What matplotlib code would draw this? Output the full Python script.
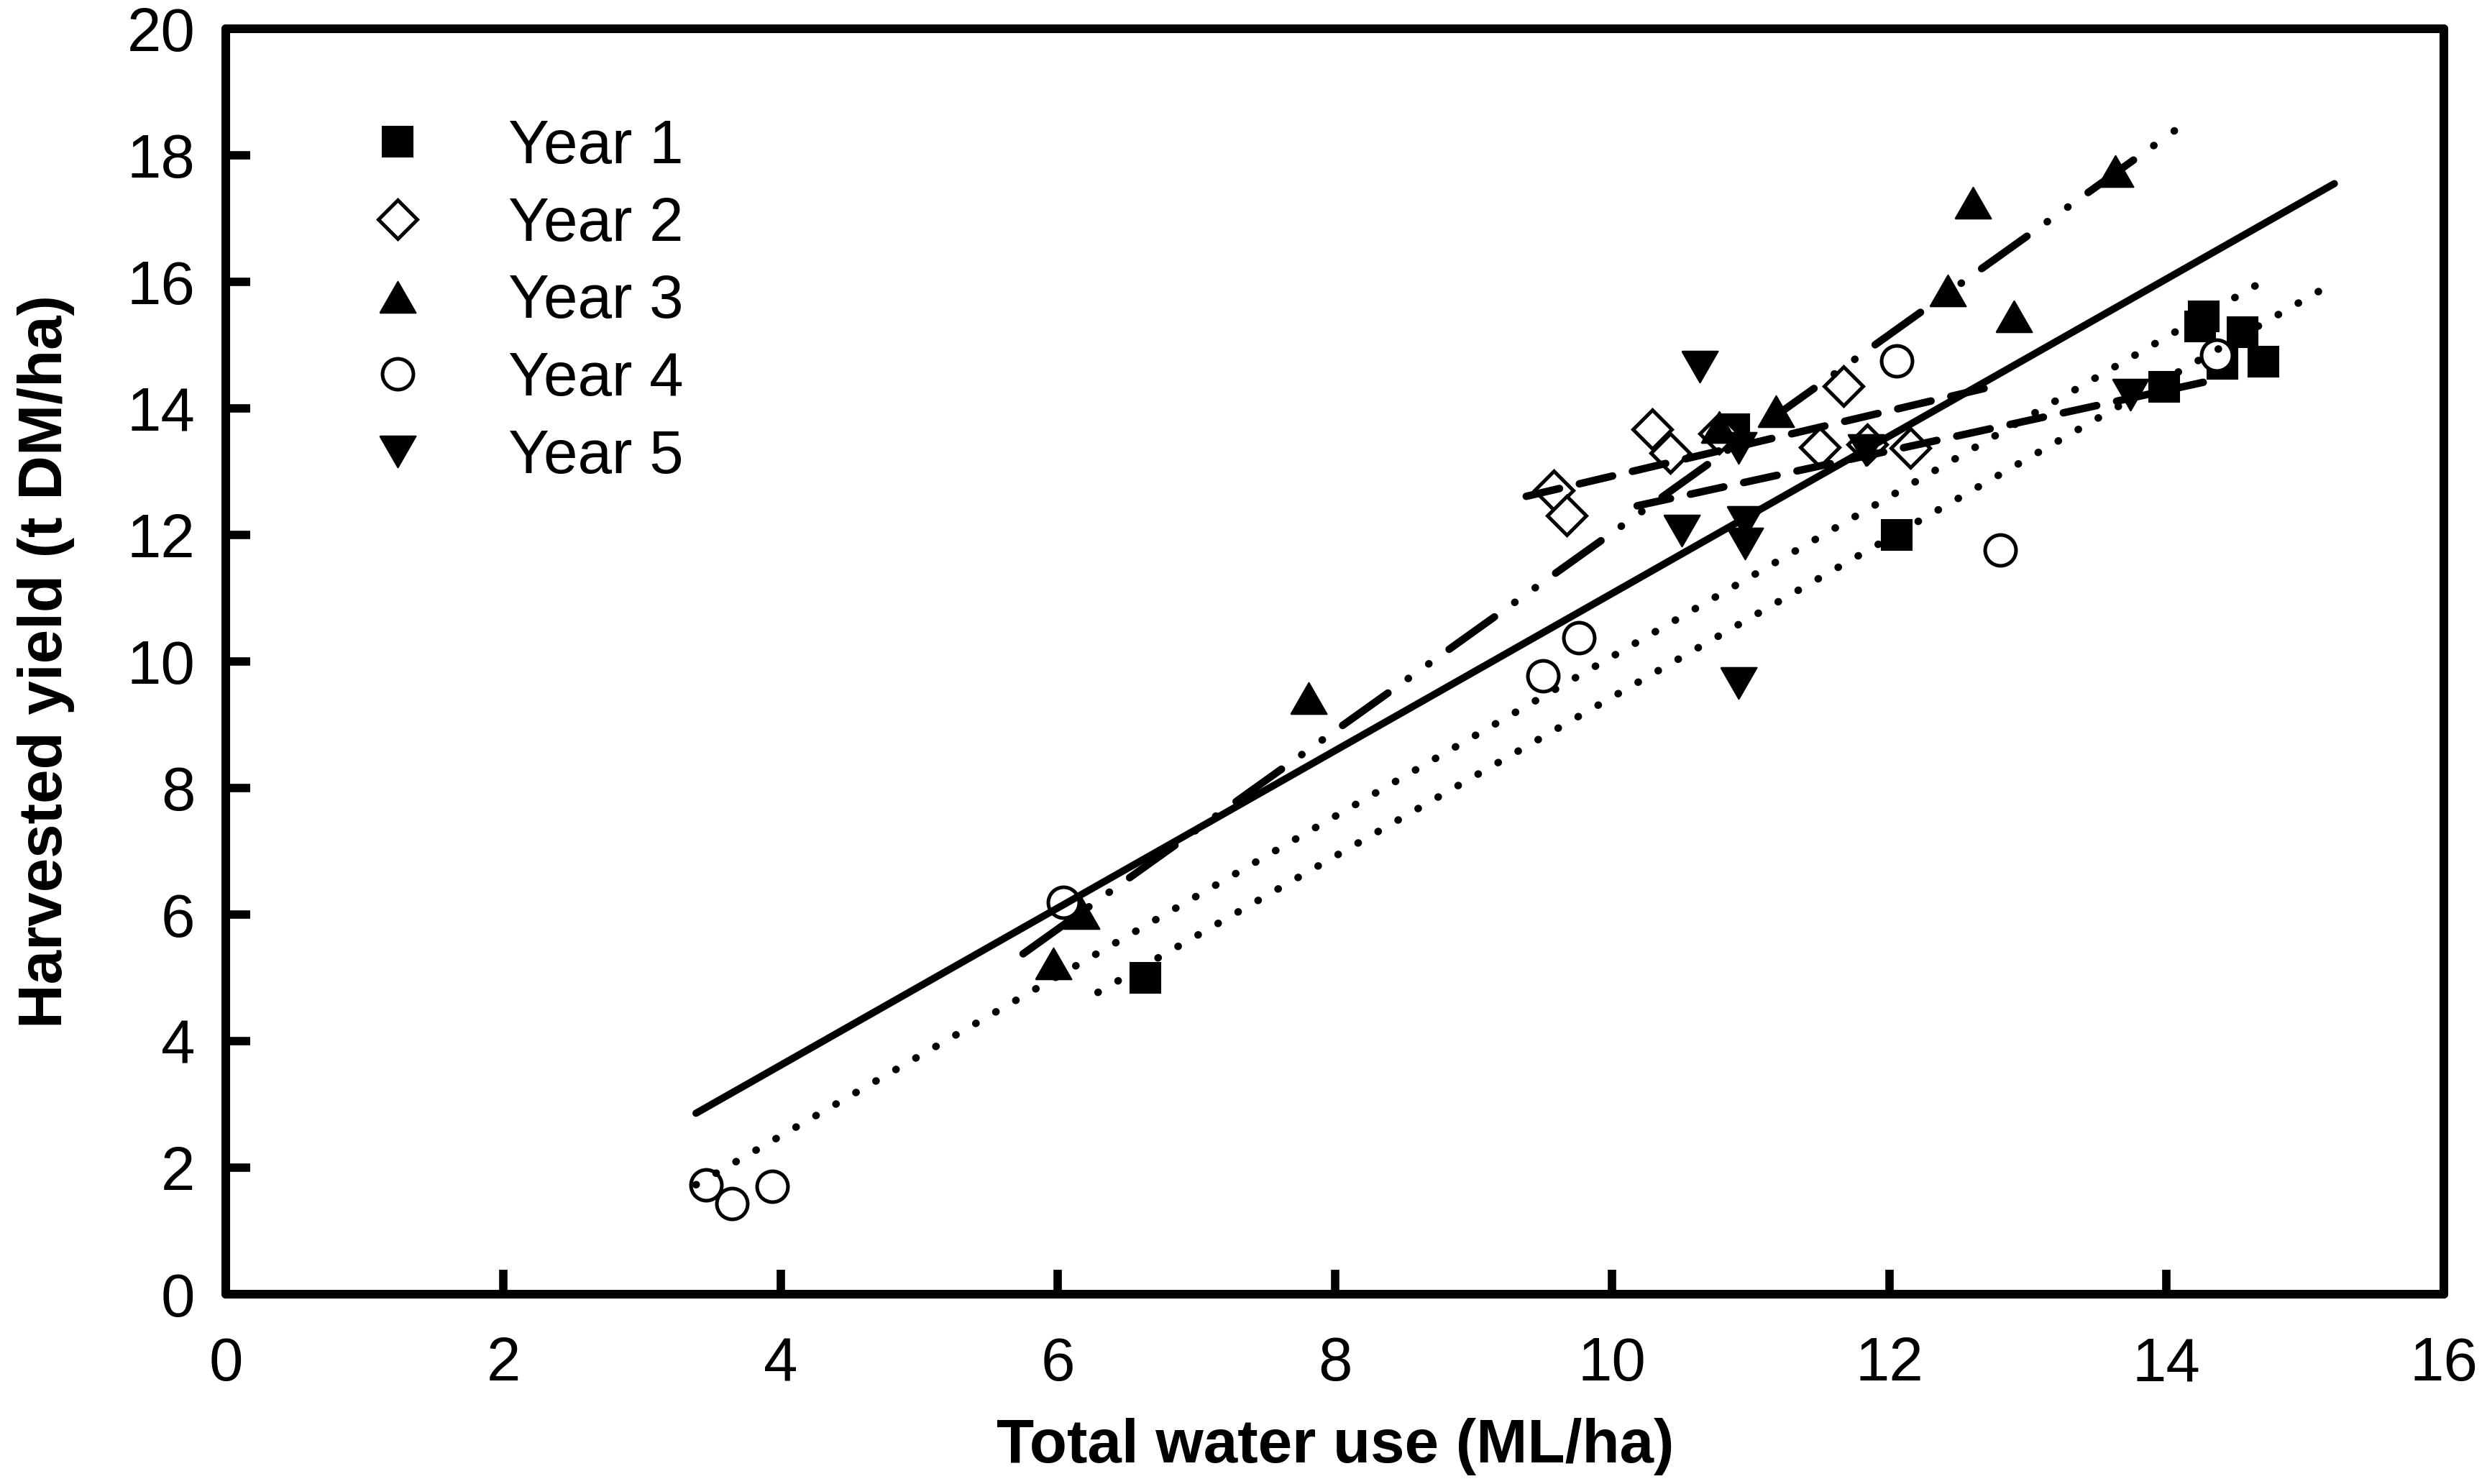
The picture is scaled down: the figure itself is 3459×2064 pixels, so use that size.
import numpy as np
import matplotlib
matplotlib.use("Agg")
import matplotlib.pyplot as plt
from matplotlib.lines import Line2D

plt.rcParams['font.family'] = ['Liberation Sans', 'DejaVu Sans']
plt.rcParams['lines.scale_dashes'] = False

# =============================================================================
# Data
year1_x = [6.63, 10.88, 12.05, 13.98, 14.27, 14.24, 14.55, 14.40, 14.70]
year1_y = [5.00, 13.67, 12.00, 14.34, 15.46, 15.29, 15.21, 14.71, 14.74]

year2_x = [9.58, 9.67, 10.29, 10.42, 10.77, 11.50, 11.67, 11.84, 12.15]
year2_y = [12.71, 12.31, 13.67, 13.29, 13.60, 13.39, 14.35, 13.43, 13.37]

year3_x = [5.97, 6.17, 7.81, 10.77, 11.18, 12.42, 12.60, 12.90, 13.63]
year3_y = [5.23, 6.02, 9.42, 13.71, 13.96, 15.86, 17.25, 15.46, 17.75]

year4_x = [3.46, 3.65, 3.94, 6.04, 9.50, 9.76, 12.05, 12.80, 14.36]
year4_y = [1.73, 1.43, 1.70, 6.19, 9.77, 10.37, 14.75, 11.76, 14.84]

year5_x = [10.63, 10.50, 10.96, 10.96, 10.91, 10.91, 11.83, 13.74]
year5_y = [14.66, 12.07, 12.20, 11.86, 9.66, 13.37, 13.34, 14.22]

# regression lines: all years, Year 1 ... Year 5
fit_slope = [1.243, 1.258, 0.516, 1.566, 1.263, 0.478]
fit_intercept = [-1.354, -3.143, 7.77, -3.625, -2.552, 7.594]
fit_xmin = [3.39, 6.29, 9.38, 5.75, 3.39, 10.18]
fit_xmax = [15.21, 15.12, 12.77, 14.11, 14.77, 14.28]

labels = ["Year 1", "Year 2", "Year 3", "Year 4", "Year 5"]
xticks = np.arange(0, 17, 2)
yticks = np.arange(0, 21, 2)

# =============================================================================
tri_up = [(-1, -0.87), (1, -0.87), (0, 0.87), (-1, -0.87)]
tri_down = [(-1, 0.87), (1, 0.87), (0, -0.87), (-1, 0.87)]

marker_styles = [
    dict(marker='s', ms=10.3, mfc='black', mec='black', mew=0.5),
    dict(marker='D', ms=9.0, mfc='white', mec='black', mew=1.2),
    dict(marker=tri_up, ms=12.0, mfc='black', mec='black', mew=0.5),
    dict(marker='o', ms=10.3, mfc='white', mec='black', mew=1.2),
    dict(marker=tri_down, ms=12.0, mfc='black', mec='black', mew=0.5),
]

dotted = (0, (0.1, 7.6))
dashed = (0, (11.4, 6.8))
dashdotdot = (0, (18.6, 8.3, 0.1, 8.3, 0.1, 8.3))
line_styles = [
    dict(ls='-', lw=2.4),
    dict(ls=dotted, lw=2.5),
    dict(ls=dashed, lw=2.5),
    dict(ls=dashdotdot, lw=2.5),
    dict(ls=dotted, lw=2.5),
    dict(ls=dashed, lw=2.5),
]

fig = plt.figure(figsize=(11.53, 6.88), dpi=300)
ax = fig.add_axes([0.09092, 0.12791, 0.89173, 0.85271])

all_x = [year1_x, year2_x, year3_x, year4_x, year5_x]
all_y = [year1_y, year2_y, year3_y, year4_y, year5_y]
for xs, ys, st in zip(all_x, all_y, marker_styles):
    ax.plot(xs, ys, ls='none', zorder=2, **st)

for m, b, x0, x1, st in zip(fit_slope, fit_intercept, fit_xmin, fit_xmax,
                             line_styles):
    xx = np.array([x0, x1])
    ax.plot(xx, m * xx + b, color='black', zorder=3,
            dash_capstyle='round', solid_capstyle='round', **st)

ax.set_xlim(0, 16)
ax.set_ylim(0, 20)
ax.set_xticks(xticks)
ax.set_yticks(yticks)
ax.tick_params(direction='in', length=8.2, width=2.8, labelsize=20.5,
               top=False, right=False)
ax.tick_params(axis='x', pad=14)
ax.tick_params(axis='y', pad=10.3)
for sp in ax.spines.values():
    sp.set_linewidth(2.9)
    sp.set_capstyle('round')

ax.set_xlabel("Total water use (ML/ha)", fontsize=20.5, fontweight='bold',
              labelpad=8)
ax.set_ylabel("Harvested yield (t DM/ha)", fontsize=20.5, fontweight='bold',
              labelpad=17.5)

handles = [Line2D([], [], ls='none', **st) for st in marker_styles]
ax.legend(handles, labels, loc='upper left', bbox_to_anchor=(0.0635, 0.929),
          frameon=False, borderpad=0, borderaxespad=0, handlelength=1.0,
          handletextpad=1.3, labelspacing=0.325, fontsize=20.5)

fig.savefig("out.png", dpi=300)
